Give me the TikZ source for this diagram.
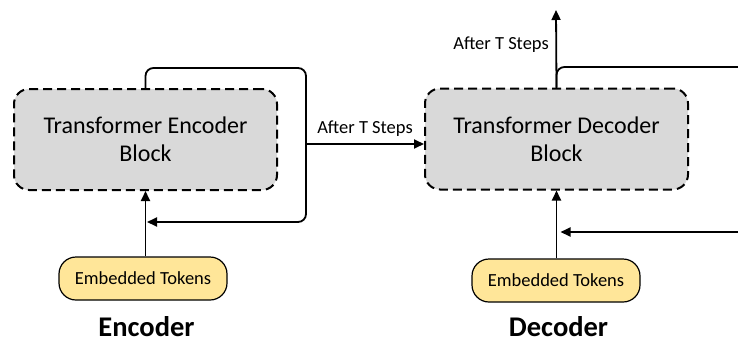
\documentclass[tikz,border=0pt]{standalone}
\usepackage{fontspec}
\setmainfont{Carlito}
\usetikzlibrary{arrows.meta}

\definecolor{blockgray}{HTML}{D9D9D9}
\definecolor{tokyellow}{HTML}{FFE699}

\tikzset{
  block/.style={draw, line width=2pt, dash pattern=on 9pt off 5pt, fill=blockgray,
    rounded corners=15pt, minimum width=263pt, minimum height=101pt, align=center,
    font=\fontsize{24}{28}\selectfont},
  tokens/.style={draw, line width=1.2pt, fill=tokyellow, rounded corners=17pt,
    minimum width=168pt, minimum height=43pt, font=\fontsize{18.5}{22}\selectfont},
  flow/.style={line width=1.8pt, -{Triangle[length=10pt,width=9pt]}},
  steplabel/.style={inner sep=0pt, font=\fontsize{18.5}{22}\selectfont},
  title/.style={inner sep=0pt, font=\fontsize{28.5}{32}\selectfont\bfseries}
}

\begin{document}
\begin{tikzpicture}[x=1pt,y=-1pt]
            \useasboundingbox (0,0) rectangle (738,343);

            % Encoder
            \node[block] (enc) at (145.5,139.5) {Transformer Encoder\\Block};
            \node[tokens] (encTok) at (143,278.5) {Embedded Tokens};
            \node[title] (encName) at (146.5,327) {Encoder};

            % Decoder
            \node[block] (dec) at (556.5,139) {Transformer Decoder\\Block};
            \node[tokens] (decTok) at (556,280.5) {Embedded Tokens};
            \node[title] (decName) at (558.5,327) {Decoder};

            % loop ends
            \coordinate (encOut) at (306,144);
            \coordinate (decTop) at (556,10);
            \coordinate (decBack) at (745,232);

            % Inputs
            \draw[flow] (encTok.north -| enc.south) -- (enc.south);
            \draw[flow] (decTok.north -| dec.south) -- (dec.south);

            % Encoder loop
            \draw[flow, rounded corners=8pt] (enc.north) -- ++(0,-20) -| (encOut) |- ([xshift=1.5pt]enc.south |- 0,222);
            \draw[flow] (encOut) -- node[steplabel, above=7pt] (encSteps) {After T Steps} (encOut -| dec.west);

            % Decoder loop
            \draw[flow] (dec.north) -- (decTop);
            \node[steplabel, anchor=east] (decSteps) at (549,45) {After T Steps};
            \draw[line width=1.8pt, rounded corners=8pt] ([yshift=-1pt]dec.north) |- (745,67);
            \draw[flow] (decBack) -- ([xshift=4pt]dec.south |- decBack);

\end{tikzpicture}
\end{document}
